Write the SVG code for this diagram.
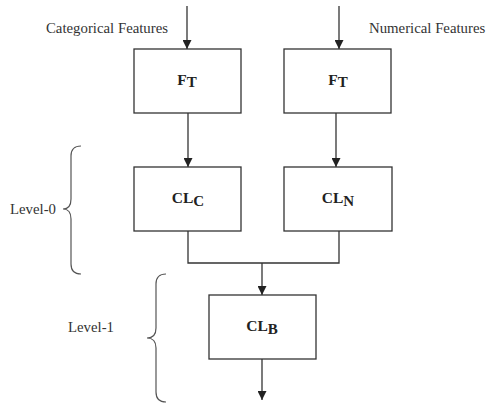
<svg xmlns="http://www.w3.org/2000/svg" width="487" height="403" viewBox="0 0 487 403">
  <defs>
    <marker id="arrow" viewBox="0 0 10 10" refX="10" refY="5" markerWidth="9" markerHeight="9" markerUnits="userSpaceOnUse" orient="auto">
      <path d="M0,0 L10,5 L0,10 z" fill="#222"/>
    </marker>
    <style>
      .box { fill: #fff; stroke: #333; stroke-width: 1.3; }
      .edge { fill: none; stroke: #333; stroke-width: 1.3; }
      .brace { fill: none; stroke: #555; stroke-width: 1.2; }
      .lbl { font-family: "Liberation Serif", "Times New Roman", serif; font-size: 14.8px; fill: #333; }
      .name { font-family: "Liberation Serif", "Times New Roman", serif; font-size: 15.5px; font-weight: bold; fill: #222; text-anchor: middle; }
      .sub { font-size: 15px; }
    </style>
  </defs>
  <rect width="487" height="403" fill="#fff"/>

  <!-- input labels -->
  <text class="lbl" x="46" y="33">Categorical Features</text>
  <text class="lbl" x="369" y="33">Numerical Features</text>

  <!-- level labels and braces -->
  <text class="lbl" x="10" y="214">Level-0</text>
  <path class="brace" d="M81,146 Q71,146 71,156 L71,199 Q71,209 63,209 Q71,209 71,219 L71,264 Q71,274 81,274"/>
  <text class="lbl" x="68" y="332">Level-1</text>
  <path class="brace" d="M166,274 Q156,274 156,284 L156,328 Q156,338 147,338 Q156,338 156,348 L156,392 Q156,402 166,402"/>

  <g id="connectors">
    <line class="edge" x1="187" y1="6" x2="187" y2="49" marker-end="url(#arrow)"/>
    <line class="edge" x1="339" y1="6" x2="339" y2="49" marker-end="url(#arrow)"/>
    <line class="edge" x1="188" y1="113" x2="188" y2="167" marker-end="url(#arrow)"/>
    <line class="edge" x1="336" y1="113" x2="336" y2="167" marker-end="url(#arrow)"/>
    <polyline class="edge" points="188,231 188,263 339,263 339,231"/>
    <line class="edge" x1="262" y1="263" x2="262" y2="295" marker-end="url(#arrow)"/>
    <line class="edge" x1="262" y1="359" x2="262" y2="400" marker-end="url(#arrow)"/>
  </g>

  <g id="ft-categorical">
    <rect class="box" x="134" y="49" width="107" height="64"/>
    <text class="name" x="187" y="85">F<tspan class="sub" dy="2">T</tspan></text>
  </g>
  <g id="ft-numerical">
    <rect class="box" x="284" y="49" width="107" height="64"/>
    <text class="name" x="338" y="85">F<tspan class="sub" dy="2">T</tspan></text>
  </g>
  <g id="cl-c">
    <rect class="box" x="134" y="167" width="107" height="64"/>
    <text class="name" x="188" y="203">CL<tspan class="sub" dy="3">C</tspan></text>
  </g>
  <g id="cl-n">
    <rect class="box" x="284" y="167" width="108" height="64"/>
    <text class="name" x="338" y="203">CL<tspan class="sub" dy="3">N</tspan></text>
  </g>
  <g id="cl-b">
    <rect class="box" x="209" y="295" width="107" height="64"/>
    <text class="name" x="262" y="331">CL<tspan class="sub" dy="3">B</tspan></text>
  </g>
</svg>
